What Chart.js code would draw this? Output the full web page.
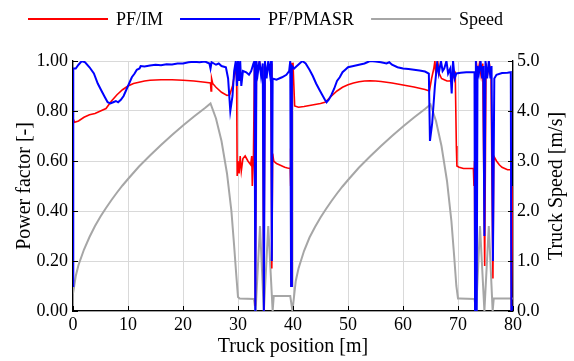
<!DOCTYPE html>
<html>
<head>
<meta charset="utf-8">
<title>Power factor and truck speed</title>
<script src="https://cdn.jsdelivr.net/npm/chart.js@4.4.0/dist/chart.umd.min.js"></script>
<style>
  html, body { margin: 0; padding: 0; background: #fff; }
  #wrap { position: relative; width: 574px; height: 361px; }
</style>
</head>
<body>
<div id="wrap"><canvas id="pf-chart"></canvas></div>
<script>
// truck position [m] and power factor of the induction motor
const imPos = [0, 0.3, 1, 2, 3, 4, 5, 6, 6.5, 7, 8, 9, 10, 11, 12, 13, 14, 16, 18, 20,
  22, 24, 25, 25.1, 25.2, 25.4, 26, 27, 28, 28.5, 29, 29.4, 29.6, 29.75, 29.8, 29.85, 30, 30.2, 30.4, 30.6,
  30.9, 31.3, 31.8, 32.3, 32.5, 32.6, 32.8, 33, 33.15, 33.35, 33.6, 33.9, 34.2, 34.5, 34.7, 34.9, 35.2, 35.5, 35.8, 36,
  36.15, 36.3, 36.5, 37, 37.5, 38, 38.5, 39, 39.5, 39.55, 39.6, 39.65, 39.8, 40, 40.3,
  41, 42, 43, 44, 45, 45.8, 46.3, 47, 48, 49, 50, 51, 52, 53, 54, 55, 56, 57, 58, 59,
  60, 61, 62, 63, 64, 64.8, 65.2, 65.6, 65.8, 66, 66.3, 66.6, 67, 67.5, 68, 68.5, 69, 69.5, 69.7, 69.8,
  70.2, 71, 72, 72.8, 72.9, 73, 73.1, 73.3, 73.6, 73.9, 74.2, 74.5, 74.85, 75.1, 75.4, 75.7, 76, 76.35, 76.5, 77,
  77.5, 78, 79, 79.6, 79.7, 80];
const imPF = [0.77, 0.755, 0.76, 0.775, 0.785, 0.79, 0.8, 0.81, 0.825, 0.84, 0.865, 0.885, 0.9, 0.91, 0.915, 0.92, 0.923, 0.925, 0.925, 0.923,
  0.92, 0.915, 0.912, 0.88, 0.93, 0.91, 0.895, 0.875, 0.862, 0.865, 0.9, 0.95, 0.99, 0.93, 0.74, 0.54, 0.6, 0.55, 0.62, 0.56,
  0.61, 0.62, 0.6, 0.585, 0.62, 0.5, 0.6, 0.99, 0.02, 0.98, 0.97, 1.0, 0.96, 0.97, 0.0, 0.99, 0.95, 0.98, 0.96, 0.99,
  0.17, 0.63, 0.6, 0.59, 0.585, 0.58, 0.575, 0.572, 0.57, 0.5, 0.65, 0.1, 0.99, 0.99, 0.82,
  0.815, 0.818, 0.822, 0.826, 0.83, 0.835, 0.845, 0.86, 0.88, 0.895, 0.905, 0.912, 0.917, 0.92, 0.921, 0.92, 0.918, 0.915, 0.912, 0.908,
  0.904, 0.9, 0.896, 0.891, 0.886, 0.88, 0.93, 0.97, 1.0, 0.94, 1.0, 0.95, 0.93, 0.925, 0.92, 0.92, 0.93, 0.95, 0.66, 0.58,
  0.575, 0.57, 0.57, 0.57, 0.5, 0.6, 0.0, 1.0, 0.95, 0.99, 0.94, 0.99, 0.18, 0.99, 0.95, 0.99, 0.94, 0.13, 0.62, 0.6,
  0.585, 0.575, 0.565, 0.565, 0.0, 0.5];

// power factor of the PMASR motor
const pmPos = [0, 0.05, 0.5, 1, 1.6, 2.2, 3, 3.8, 4.5, 5.2, 5.8, 6.3, 6.8, 7.3, 7.8, 8.2, 8.7, 9.2, 9.7, 10.2,
  10.7, 11.2, 11.6, 12.1, 12.3, 13, 14, 15, 16, 17, 18, 19, 20, 21, 22, 23, 24, 24.8, 25, 25.2,
  26, 26.5, 27, 27.8, 28.2, 28.6, 29, 29.3, 29.6, 29.8, 30, 30.2, 30.4, 30.6, 30.9, 31.5, 32, 32.4, 32.8, 33,
  33.15, 33.35, 33.6, 33.9, 34.2, 34.5, 34.7, 34.9, 35.2, 35.5, 35.8, 36, 36.15, 36.3, 37, 38, 38.8, 39.3, 39.5, 39.65,
  39.8, 40.2, 40.7, 41.2, 41.7, 42.3, 43, 43.6, 44.2, 44.8, 45.3, 45.8, 46.1, 46.5, 47, 47.5, 48, 48.5, 49, 49.5,
  50, 51, 52, 53, 53.5, 54, 55, 56, 57, 57.5, 58, 59, 60, 61, 62, 63, 64, 64.7, 64.9, 65.3,
  65.8, 66.2, 66.5, 66.9, 67.2, 67.5, 67.9, 68.2, 68.6, 68.85, 69.1, 69.4, 69.7, 70.5, 71.5, 72.5, 73, 73.1, 73.25, 73.4,
  73.55, 73.8, 74.1, 74.4, 74.6, 74.8, 75, 75.3, 75.6, 75.9, 76.1, 76.35, 76.6, 77, 78, 79, 79.6, 79.7, 80];
const pmPF = [0.1, 0.97, 0.97, 0.985, 1.0, 0.995, 0.975, 0.95, 0.91, 0.88, 0.855, 0.835, 0.83, 0.835, 0.84, 0.835, 0.845, 0.86, 0.885, 0.91,
  0.935, 0.95, 0.965, 0.97, 0.98, 0.978, 0.982, 0.985, 0.983, 0.987, 0.986, 0.99, 0.99, 0.995, 0.997, 0.995, 0.998, 0.99, 0.97, 0.995,
  0.985, 0.99, 0.98, 0.975, 0.93, 0.8, 0.86, 0.96, 1.0, 0.9, 1.0, 0.92, 1.0, 0.9, 0.96, 0.955, 0.945, 0.96, 0.99, 1.0,
  0.0, 1.0, 0.95, 1.0, 0.94, 0.99, 0.0, 1.0, 0.93, 1.0, 0.95, 1.0, 0.2, 0.93, 0.925, 0.935, 0.945, 0.96, 1.0, 0.1,
  0.98, 0.97, 0.98, 0.99, 1.0, 0.99, 0.965, 0.94, 0.91, 0.885, 0.865, 0.845, 0.835, 0.845, 0.865, 0.89, 0.92, 0.935, 0.955, 0.965,
  0.975, 0.98, 0.985, 0.99, 0.995, 1.0, 0.998, 0.995, 0.99, 0.995, 0.985, 0.975, 0.97, 0.968, 0.965, 0.962, 0.958, 0.95, 0.68, 0.75,
  0.9, 0.99, 0.95, 1.0, 0.96, 0.97, 1.0, 0.95, 0.97, 0.87, 1.0, 0.93, 0.95, 0.953, 0.955, 0.955, 0.955, 0.0, 1.0, 0.0,
  0.98, 0.95, 1.0, 0.93, 0.98, 0.3, 1.0, 0.93, 1.0, 0.93, 0.98, 0.2, 0.93, 0.945, 0.952, 0.953, 0.955, 0.0, 0.02];

// truck speed [m/s]
const spdPos = [0, 0.5, 1, 2, 3, 4, 5, 6, 7, 8, 9, 10, 12, 14, 16, 18, 20, 22, 24, 25,
  26, 27, 28, 28.8, 29.3, 29.7, 30, 30.3, 32.9, 33.2, 34, 34.7, 35.5, 36.3, 36.5, 39.5, 39.9, 40.5, 41, 42,
  43, 44, 45, 46, 47, 48, 49, 50, 52, 54, 56, 58, 60, 62, 64, 65, 66, 67, 68, 68.8,
  69.3, 69.7, 70, 70.3, 73, 73.3, 74, 74.8, 75.6, 76.3, 76.5, 80];
const spdVal = [0.35, 0.7, 0.92, 1.23, 1.48, 1.7, 1.89, 2.06, 2.22, 2.37, 2.51, 2.64, 2.89, 3.11, 3.32, 3.52, 3.71, 3.89, 4.06, 4.15,
  3.85, 3.4, 2.75, 2.0, 1.3, 0.7, 0.28, 0.25, 0.24, 0.0, 1.7, 0.0, 1.7, 0.0, 0.3, 0.3, 0.0, 0.6, 0.85, 1.2,
  1.47, 1.68, 1.87, 2.04, 2.2, 2.35, 2.49, 2.62, 2.87, 3.09, 3.3, 3.5, 3.69, 3.87, 4.04, 4.13, 3.8, 3.3, 2.6, 1.8,
  1.1, 0.5, 0.25, 0.25, 0.24, 0.0, 1.7, 0.0, 1.7, 0.0, 0.25, 0.25];

const seriesNames = ["PF/IM", "PF/PMASR", "Speed"];
const xTicks = ["0", "10", "20", "30", "40", "50", "60", "70", "80"];
const pfTicks = ["0.00", "0.20", "0.40", "0.60", "0.80", "1.00"];
const spdTicks = ["0.0", "1.0", "2.0", "3.0", "4.0", "5.0"];

const SERIF = "'Liberation Serif', 'Times New Roman', serif";
Chart.defaults.font.family = SERIF;
Chart.defaults.color = "#000";

function toPoints(xs, ys) {
  return xs.map((x, i) => ({ x: x, y: ys[i] }));
}

// little inward tick marks on the three axes
const innerTicks = {
  id: "innerTicks",
  afterDraw(chart) {
    const ctx = chart.ctx;
    const area = chart.chartArea;
    const { x, y, y2 } = chart.scales;
    ctx.save();
    ctx.strokeStyle = "#000";
    ctx.lineWidth = 1;
    ctx.beginPath();
    y.ticks.forEach((t) => {
      const py = Math.round(y.getPixelForValue(t.value)) + 0.5;
      ctx.moveTo(area.left, py);
      ctx.lineTo(area.left + 5, py);
    });
    y2.ticks.forEach((t) => {
      const py = Math.round(y2.getPixelForValue(t.value)) + 0.5;
      ctx.moveTo(area.right - 5, py);
      ctx.lineTo(area.right, py);
    });
    x.ticks.forEach((t) => {
      const px = Math.round(x.getPixelForValue(t.value)) + 0.5;
      ctx.moveTo(px, area.bottom);
      ctx.lineTo(px, area.bottom - 5);
    });
    ctx.stroke();
    ctx.restore();
  },
};

// right axis title, read from bottom to top
const rightTitle = {
  id: "rightTitle",
  afterDraw(chart) {
    const ctx = chart.ctx;
    const area = chart.chartArea;
    ctx.save();
    ctx.translate(chart.width - 17, (area.top + area.bottom) / 2);
    ctx.rotate(-Math.PI / 2);
    ctx.font = "20px " + SERIF;
    ctx.fillStyle = "#000";
    ctx.textAlign = "center";
    ctx.textBaseline = "middle";
    ctx.fillText("Truck Speed [m/s]", 0, 0);
    ctx.restore();
  },
};

// legend row at the top with long line samples
const lineLegend = {
  id: "lineLegend",
  afterDraw(chart) {
    const ctx = chart.ctx;
    let cx = 28;
    const cy = 19;
    ctx.save();
    ctx.font = "18px " + SERIF;
    ctx.textBaseline = "middle";
    chart.data.datasets.forEach((ds) => {
      ctx.strokeStyle = ds.borderColor;
      ctx.lineWidth = 2;
      ctx.beginPath();
      ctx.moveTo(cx, cy);
      ctx.lineTo(cx + 80, cy);
      ctx.stroke();
      cx += 88;
      ctx.fillStyle = "#000";
      ctx.fillText(ds.label, cx, cy + 1);
      cx += ctx.measureText(ds.label).width + 17;
    });
    ctx.restore();
  },
};

function renderChart() {
  const ctx = document.getElementById("pf-chart").getContext("2d");
  new Chart(ctx, {
    type: "line",
    data: {
      datasets: [
        {
          label: seriesNames[0],
          data: toPoints(imPos, imPF),
          borderColor: "#ff0000",
          borderWidth: 1.6,
          yAxisID: "y",
          order: 1,
        },
        {
          label: seriesNames[1],
          data: toPoints(pmPos, pmPF),
          borderColor: "#0000ff",
          borderWidth: 2,
          yAxisID: "y",
          order: 0,
        },
        {
          label: seriesNames[2],
          data: toPoints(spdPos, spdVal),
          borderColor: "#a6a6a6",
          borderWidth: 2,
          yAxisID: "y2",
          order: 2,
        },
      ],
    },
    options: {
      responsive: true,
      maintainAspectRatio: false,
      animation: false,
      devicePixelRatio: 1,
      elements: {
        point: { radius: 0 },
        line: { tension: 0, fill: false },
      },
      layout: { padding: { top: 61, left: 0, right: 0, bottom: 0 } },
      plugins: {
        legend: { display: false },
        tooltip: { enabled: false },
      },
      scales: {
        x: {
          type: "linear",
          min: 0,
          max: 80,
          ticks: {
            stepSize: 10,
            padding: 3,
            maxRotation: 0,
            font: { size: 18 },
            color: "#000",
            callback: (v, i) => xTicks[i],
          },
          grid: { color: "#d9d9d9", drawTicks: false },
          border: { color: "#000", width: 1.3 },
          title: {
            display: true,
            text: "Truck position [m]",
            font: { size: 20 },
            color: "#000",
            padding: { top: 0, bottom: 2 },
          },
          afterFit: (scale) => { scale.height = 50; },
        },
        y: {
          position: "left",
          min: 0,
          max: 1,
          ticks: {
            stepSize: 0.2,
            padding: 5,
            font: { size: 18 },
            color: "#000",
            callback: (v, i) => pfTicks[i],
          },
          grid: { color: "#d9d9d9", drawTicks: false },
          border: { color: "#000", width: 1.3 },
          title: {
            display: true,
            text: "Power factor [-]",
            font: { size: 20 },
            color: "#000",
            padding: { top: 13, bottom: 0 },
          },
          afterFit: (scale) => { scale.width = 73; },
        },
        y2: {
          position: "right",
          min: 0,
          max: 5,
          ticks: {
            stepSize: 1,
            padding: 4,
            font: { size: 18 },
            color: "#000",
            callback: (v, i) => spdTicks[i],
          },
          grid: { drawOnChartArea: false, drawTicks: false },
          border: { color: "#000", width: 1.3 },
          afterFit: (scale) => { scale.width = 61; },
        },
      },
    },
    plugins: [innerTicks, rightTitle, lineLegend],
  });
}

renderChart();
</script>
</body>
</html>
